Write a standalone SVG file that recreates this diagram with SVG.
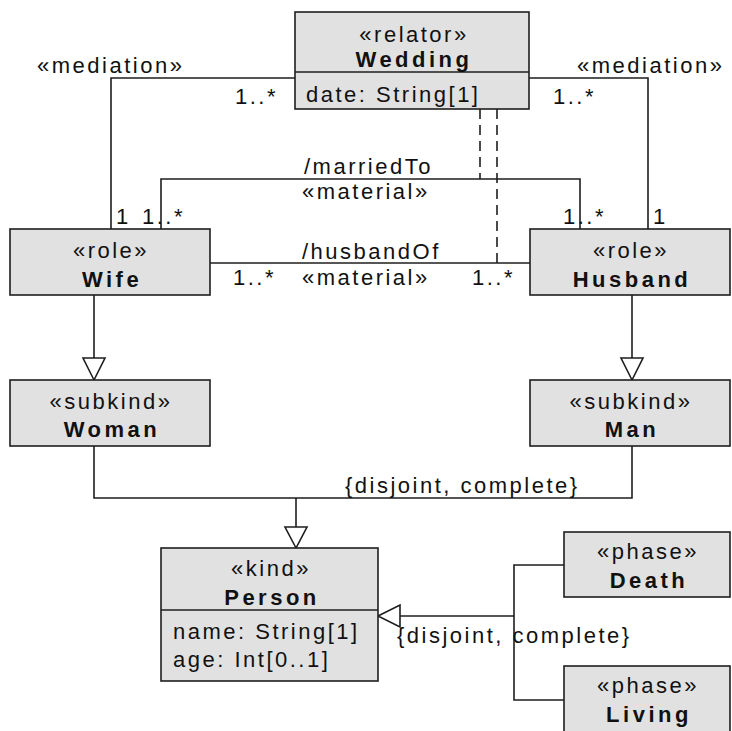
<svg xmlns="http://www.w3.org/2000/svg" width="732" height="731" viewBox="0 0 732 731">
  <style>
    .box { fill: #e1e1e1; stroke: #1e1e1e; stroke-width: 1.6; }
    .sep { stroke: #1e1e1e; stroke-width: 1.6; }
    .line { fill: none; stroke: #1e1e1e; stroke-width: 1.6; }
    .dash { fill: none; stroke: #1e1e1e; stroke-width: 1.6; stroke-dasharray: 10 6; }
    .head { fill: #ffffff; stroke: #1e1e1e; stroke-width: 1.6; stroke-linejoin: miter; }
    text { font-family: "Liberation Sans", Arial, Helvetica, sans-serif; font-size: 22px; fill: #111111; }
    .st { letter-spacing: 2.5px; text-anchor: middle; }
    .nm { font-weight: bold; letter-spacing: 3.5px; text-anchor: middle; }
    .at { letter-spacing: 2.5px; }
    .lb { letter-spacing: 2.5px; }
  </style>

  <!-- connectors -->
  <g id="connectors">
    <!-- mediations -->
    <polyline class="line" points="295,78 111,78 111,229"/>
    <polyline class="line" points="529,78 648,78 648,229"/>
    <!-- material relations -->
    <polyline class="line" points="161,229 161,179 580,179 580,229"/>
    <line class="line" x1="210" y1="263" x2="530" y2="263"/>
    <!-- derivations from the relator -->
    <line class="dash" x1="480" y1="109" x2="480" y2="179"/>
    <line class="dash" x1="497" y1="109" x2="497" y2="263"/>
    <!-- role specialisations -->
    <line class="line" x1="94" y1="295" x2="94" y2="358"/>
    <polygon class="head" points="94,380 83,358 105,358"/>
    <line class="line" x1="632" y1="295" x2="632" y2="358"/>
    <polygon class="head" points="632,380 621,358 643,358"/>
    <!-- subkind generalization set -->
    <polyline class="line" points="94,446 94,498 632,498 632,446"/>
    <line class="line" x1="296" y1="498" x2="296" y2="527"/>
    <polygon class="head" points="296,548 285,527 307,527"/>
    <!-- phase generalization set -->
    <polyline class="line" points="564,565 514,565 514,700 564,700"/>
    <line class="line" x1="514" y1="616" x2="400" y2="616"/>
    <polygon class="head" points="378,616 400,605 400,627"/>

    <!-- labels -->
    <text class="lb" x="37" y="73">«mediation»</text>
    <text class="lb" x="577" y="73">«mediation»</text>
    <text class="lb" x="235" y="104">1..*</text>
    <text class="lb" x="553" y="104">1..*</text>
    <text class="lb" x="116" y="224">1</text>
    <text class="lb" x="142" y="224">1..*</text>
    <text class="lb" x="563" y="224">1..*</text>
    <text class="lb" x="653" y="224">1</text>
    <text class="lb" x="304" y="174">/marriedTo</text>
    <text class="lb" x="302" y="199">«material»</text>
    <text class="lb" x="302" y="259">/husbandOf</text>
    <text class="lb" x="302" y="285">«material»</text>
    <text class="lb" x="233" y="285">1..*</text>
    <text class="lb" x="472" y="285">1..*</text>
    <text class="lb" x="345" y="493">{disjoint, complete}</text>
    <text class="lb" x="397" y="643">{disjoint, complete}</text>
  </g>

  <!-- nodes -->
  <g id="wedding">
    <rect class="box" x="295" y="12" width="234" height="97"/>
    <line class="sep" x1="295" y1="72" x2="529" y2="72"/>
    <text class="st" x="414" y="42">«relator»</text>
    <text class="nm" x="414" y="67">Wedding</text>
    <text class="at" x="306" y="102">date: String[1]</text>
  </g>

  <g id="wife">
    <rect class="box" x="10" y="229" width="200" height="66"/>
    <text class="st" x="111" y="258">«role»</text>
    <text class="nm" x="112" y="287">Wife</text>
  </g>

  <g id="husband">
    <rect class="box" x="530" y="229" width="200" height="66"/>
    <text class="st" x="631" y="258">«role»</text>
    <text class="nm" x="632" y="287">Husband</text>
  </g>

  <g id="woman">
    <rect class="box" x="10" y="380" width="200" height="66"/>
    <text class="st" x="111" y="409">«subkind»</text>
    <text class="nm" x="112" y="437">Woman</text>
  </g>

  <g id="man">
    <rect class="box" x="530" y="380" width="200" height="66"/>
    <text class="st" x="631" y="409">«subkind»</text>
    <text class="nm" x="632" y="437">Man</text>
  </g>

  <g id="person">
    <rect class="box" x="161" y="548" width="217" height="133"/>
    <line class="sep" x1="161" y1="610" x2="378" y2="610"/>
    <text class="st" x="271" y="576">«kind»</text>
    <text class="nm" x="272" y="605">Person</text>
    <text class="at" x="173" y="639">name: String[1]</text>
    <text class="at" x="173" y="667">age: Int[0..1]</text>
  </g>

  <g id="death">
    <rect class="box" x="564" y="532" width="166" height="65"/>
    <text class="st" x="648" y="559">«phase»</text>
    <text class="nm" x="649" y="588">Death</text>
  </g>

  <g id="living">
    <rect class="box" x="564" y="666" width="166" height="70"/>
    <text class="st" x="648" y="693">«phase»</text>
    <text class="nm" x="649" y="722">Living</text>
  </g>
</svg>
